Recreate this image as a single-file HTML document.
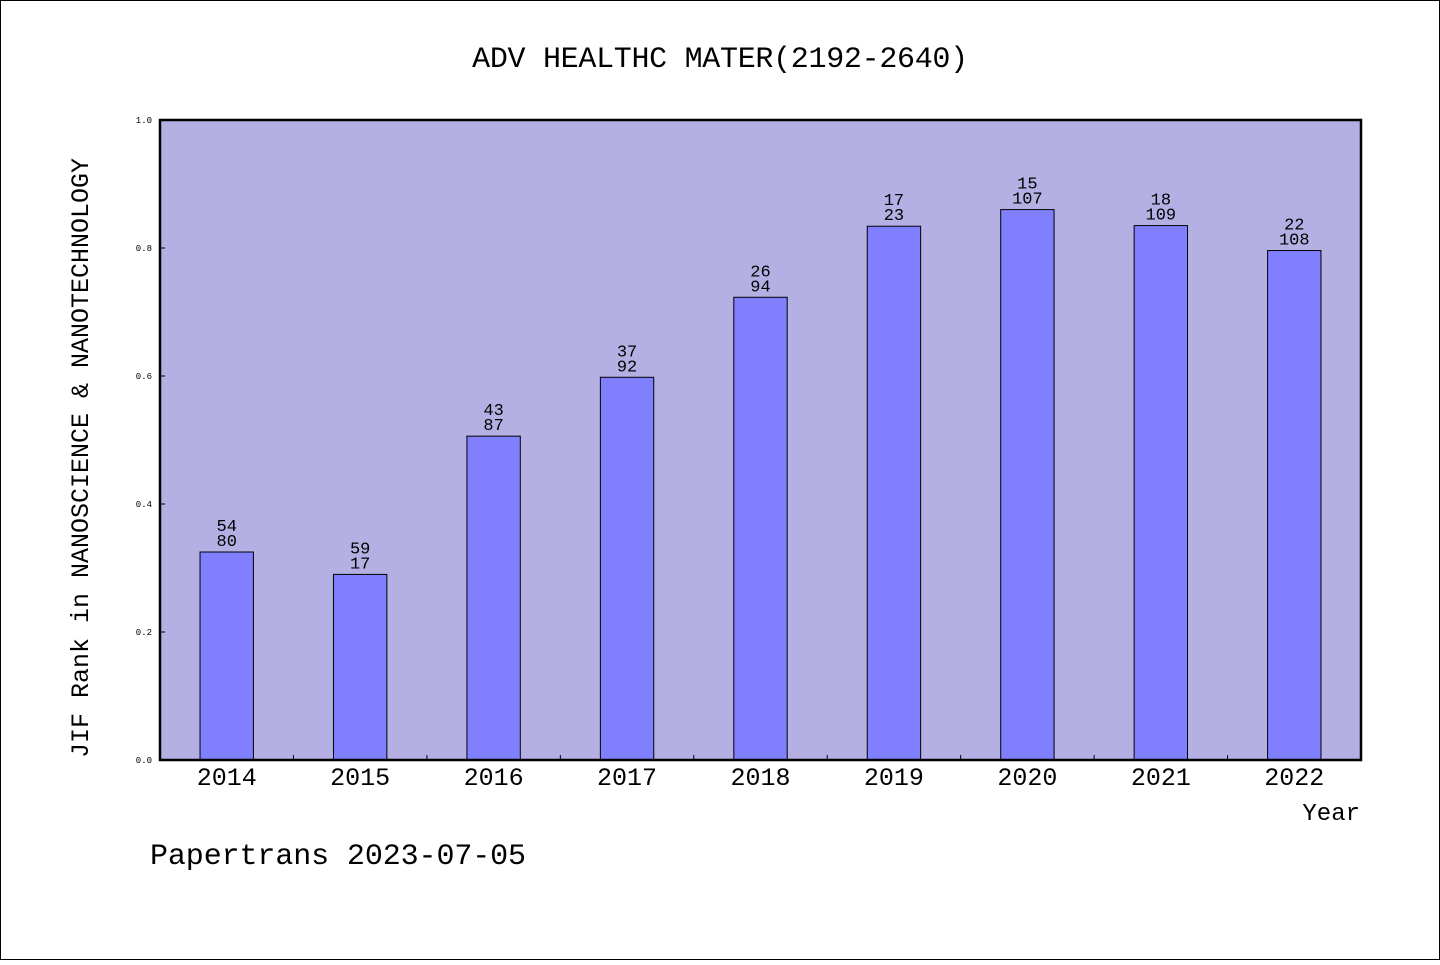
<!DOCTYPE html>
<html><head><meta charset="utf-8"><style>
html,body{margin:0;padding:0;background:#fff;}
body{width:1440px;height:960px;overflow:hidden;}
svg text{font-family:"Liberation Mono","Noto Sans CJK SC",monospace;fill:#000;}
</style></head><body>
<svg id="chart" width="1440" height="960" xmlns="http://www.w3.org/2000/svg">
<rect x="0.5" y="0.5" width="1439" height="959" fill="#fff" stroke="#000" stroke-width="1"/>
<text x="720" y="67" font-size="30" text-anchor="middle" letter-spacing="-0.3">ADV HEALTHC MATER(2192-2640)</text>
<rect x="160" y="120" width="1201" height="640" fill="#b5b0e3"/>
<g id="bars"></g>
<rect x="160" y="120" width="1201" height="640" fill="none" stroke="#000" stroke-width="2.5"/>
<g id="axes"></g>
<text transform="translate(88,458) rotate(-90)" font-size="25" text-anchor="middle">JIF Rank in NANOSCIENCE &amp; NANOTECHNOLOGY</text>
<text x="1360" y="820" font-size="24" text-anchor="end">Year</text>
<text x="150" y="864" font-size="30" letter-spacing="-0.1">Papertrans 2023-07-05</text>
</svg>
<script>
const years = ["2014","2015","2016","2017","2018","2019","2020","2021","2022"];
const ranks = [54,59,43,37,26,17,15,18,22];
const totals = [80,17,87,92,94,23,107,109,108];
const values = [0.325,0.29,0.506,0.598,0.723,0.834,0.86,0.835,0.796];
const yTicks = ["0.0","0.2","0.4","0.6","0.8","1.0"];

const NS="http://www.w3.org/2000/svg";
const x0=160,x1=1361,y0=760,y1=120;
const band=(x1-x0)/years.length;
const xC=i=>x0+band*(i+0.5);
const yS=v=>y0-(y0-y1)*v;
function mk(t,a,p){const e=document.createElementNS(NS,t);for(const k in a)e.setAttribute(k,a[k]);p.appendChild(e);return e;}
const bars=document.getElementById('bars'),axes=document.getElementById('axes');
const bw=band*0.4;
years.forEach((yr,i)=>{
  const v=values[i];
  const r=mk('rect',{x:xC(i)-bw/2,y:yS(v),width:bw,height:y0-yS(v),fill:'#8080ff',stroke:'#000','stroke-width':1},bars);
  
  
  const t1=mk('text',{x:xC(i),y:yS(v)-21,'font-size':17,'text-anchor':'middle'},bars);
  t1.textContent=ranks[i];
  
  
  const t2=mk('text',{x:xC(i),y:yS(v)-6,'font-size':17,'text-anchor':'middle'},bars);
  t2.textContent=totals[i];
  
  
  const xl=mk('text',{x:xC(i),y:785,'font-size':25,'text-anchor':'middle'},axes);
  xl.textContent=yr;
  
  
  if(i>0){
    const tk=mk('line',{x1:x0+band*i,x2:x0+band*i,y1:y0,y2:y0-5,stroke:'#000','stroke-width':1},axes);
    
    
  }
});
yTicks.forEach((lab,i)=>{
  const v=parseFloat(lab);
  const tk=mk('line',{x1:x0,x2:x0+5,y1:yS(v),y2:yS(v),stroke:'#000','stroke-width':1},axes);
  
  
  const t=mk('text',{x:152,y:yS(v)+3,'font-size':9,'text-anchor':'end'},axes);
  t.textContent=lab;
  
  
});
</script>
</body></html>
